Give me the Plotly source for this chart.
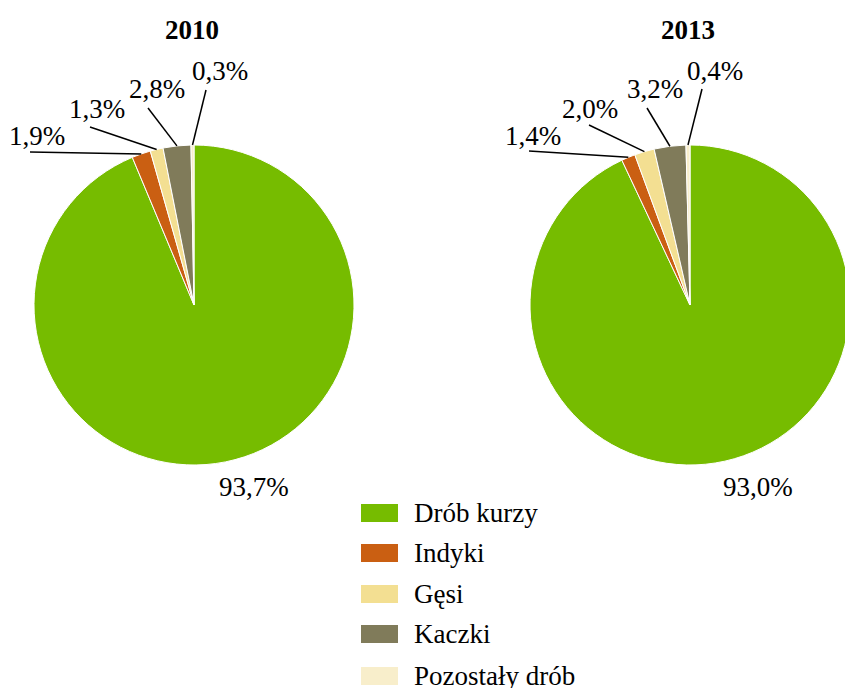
import math
import plotly.graph_objects as go

categories = ["Drób kurzy", "Indyki", "Gęsi", "Kaczki", "Pozostały drób"]
values_2010 = [93.7, 1.9, 1.3, 2.8, 0.3]
values_2013 = [93.0, 1.4, 2.0, 3.2, 0.4]
labels_2010 = ["93,7%", "1,9%", "1,3%", "2,8%", "0,3%"]
labels_2013 = ["93,0%", "1,4%", "2,0%", "3,2%", "0,4%"]
years = ["2010", "2013"]
colors = ["#76BC00", "#CA5F12", "#F3DF92", "#807B5A", "#F8EECB"]

W, H = 860, 688
FONT = "Liberation Serif"
FS = 27

# pie geometry (pixels): center x, center y, radius
pies = [
    dict(cx=194, cy=305, r=160),
    dict(cx=690, cy=305, r=160),
]
# label layout (pixels): text centers and leader line ends (None = no leader)
text_pos = [
    [(254, 487), (37, 136), (97, 109), (157, 89), (220, 71)],
    [(758, 487), (533, 136), (590, 109), (655, 89), (715, 71)],
]
line_end = [
    [None, (30, 152), (90, 127), (148, 108), (206, 90)],
    [None, (529, 151), (589, 125), (647, 108), (702, 89)],
]

fig = go.Figure()
annotations = []
shapes = []
for i, (vals, labs) in enumerate([(values_2010, labels_2010), (values_2013, labels_2013)]):
    p = pies[i]
    fig.add_trace(go.Pie(
        labels=categories, values=vals, sort=False, direction="clockwise", rotation=0,
        marker=dict(colors=colors, line=dict(color="white", width=1)),
        textinfo="none", hoverinfo="label+percent", showlegend=False,
        domain=dict(x=[(p["cx"] - p["r"]) / W, (p["cx"] + p["r"]) / W],
                    y=[1 - (p["cy"] + p["r"]) / H, 1 - (p["cy"] - p["r"]) / H]),
    ))
    total = sum(vals)
    cum = 0
    for j, v in enumerate(vals):
        theta = 2 * math.pi * (cum + v / 2) / total
        cum += v
        sx = p["cx"] + p["r"] * math.sin(theta)
        sy = p["cy"] - p["r"] * math.cos(theta)
        if line_end[i][j] is not None:
            ex, ey = line_end[i][j]
            shapes.append(dict(type="line", xref="x", yref="y", x0=sx, y0=sy, x1=ex, y1=ey,
                               line=dict(color="black", width=1.5)))
        tx, ty = text_pos[i][j]
        annotations.append(dict(x=tx, y=ty, xref="x", yref="y", text=labs[j], showarrow=False,
                                font=dict(family=FONT, size=FS, color="black"),
                                xanchor="center", yanchor="middle"))
    annotations.append(dict(x=p["cx"] - 2, y=30, xref="x", yref="y", text="<b>" + years[i] + "</b>",
                            showarrow=False, font=dict(family=FONT, size=27, color="black"),
                            xanchor="center", yanchor="middle"))

# manual legend
leg_x0, leg_x1, leg_tx = 361, 398, 412
leg_y = [513, 553, 594, 634, 676]
for k, cat in enumerate(categories):
    shapes.append(dict(type="rect", xref="x", yref="y", x0=leg_x0, x1=leg_x1,
                       y0=leg_y[k] - 9, y1=leg_y[k] + 9, fillcolor=colors[k], line=dict(width=0)))
    annotations.append(dict(x=leg_tx, y=leg_y[k], xref="x", yref="y", text=cat, showarrow=False,
                            font=dict(family=FONT, size=FS, color="black"),
                            xanchor="left", yanchor="middle"))

fig.update_layout(
    width=W, height=H, margin=dict(l=0, r=0, t=0, b=0),
    paper_bgcolor="white", plot_bgcolor="rgba(0,0,0,0)",
    font=dict(family=FONT),
    xaxis=dict(range=[0, W], visible=False, fixedrange=True, domain=[0, 1]),
    yaxis=dict(range=[H, 0], visible=False, fixedrange=True, domain=[0, 1]),
    shapes=shapes, annotations=annotations, showlegend=False,
)
fig.write_html("out.html", config={"displayModeBar": False},
               post_script="document.body.style.margin='0';document.body.style.overflow='hidden';")
